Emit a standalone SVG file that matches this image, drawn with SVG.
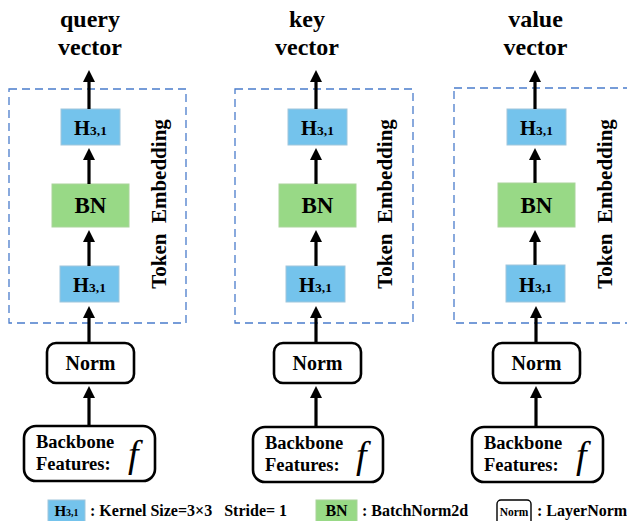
<svg xmlns="http://www.w3.org/2000/svg" width="627" height="521" viewBox="0 0 627 521">
<defs>
<style>
.t{font-family:"Liberation Serif","Times New Roman",serif;font-weight:bold;fill:#000}
.h{fill:#74C3EC;stroke:#9fc6dc;stroke-width:1}
.g{fill:#98D986;stroke:#a9d49a;stroke-width:1}
.r{fill:#fff;stroke:#000;stroke-width:2.6}
.d{fill:none;stroke:#4A7CCB;stroke-width:1.3;stroke-dasharray:8 5}
.a{stroke:#000;stroke-width:3.2;fill:none}
.f{font-family:"Liberation Serif","Times New Roman",serif;font-style:italic;fill:#000}
</style>
<marker id="ah" markerUnits="userSpaceOnUse" markerWidth="14" markerHeight="14" viewBox="0 0 14 14" refX="1" refY="7" orient="auto">
<path d="M0,1 L12,7 L0,13 z" fill="#000"/>
</marker>
</defs>

<!-- dashed token embedding containers -->
<g id="container-query"><rect class="d" x="9" y="89" width="177" height="234"/>
<text class="t" font-size="21" transform="translate(166,204) rotate(-90)" text-anchor="middle" xml:space="preserve" style="white-space:pre">Token  Embedding</text></g>
<g id="container-key"><rect class="d" x="235" y="89" width="178" height="234"/>
<text class="t" font-size="21" transform="translate(392,204) rotate(-90)" text-anchor="middle" xml:space="preserve" style="white-space:pre">Token  Embedding</text></g>
<g id="container-value"><rect class="d" x="454" y="88" width="180" height="235"/>
<text class="t" font-size="21" transform="translate(612,204) rotate(-90)" text-anchor="middle" xml:space="preserve" style="white-space:pre">Token  Embedding</text></g>

<!-- titles -->
<g id="title-query"><text class="t" font-size="24" x="90" y="27" text-anchor="middle">query</text><text class="t" font-size="24" x="90" y="55" text-anchor="middle">vector</text></g>
<g id="title-key"><text class="t" font-size="24" x="307" y="27" text-anchor="middle">key</text><text class="t" font-size="24" x="307" y="55" text-anchor="middle">vector</text></g>
<g id="title-value"><text class="t" font-size="24" x="535.5" y="27" text-anchor="middle">value</text><text class="t" font-size="24" x="535.5" y="55" text-anchor="middle">vector</text></g>

<!-- column 1 -->
<g id="q-h-top"><rect class="h" x="61" y="109" width="59" height="36"/><text class="t" font-size="20.5" x="90.5" y="135" text-anchor="middle">H<tspan font-size="13.5">3,1</tspan></text></g>
<g id="q-bn"><rect class="g" x="52" y="184" width="77" height="43"/><text class="t" font-size="23" x="90.5" y="213" text-anchor="middle">BN</text></g>
<g id="q-h-bottom"><rect class="h" x="60" y="266" width="59" height="36"/><text class="t" font-size="20.5" x="89.5" y="292" text-anchor="middle">H<tspan font-size="13.5">3,1</tspan></text></g>
<g id="q-norm"><rect class="r" x="47" y="343" width="87" height="40" rx="9"/><text class="t" font-size="20" x="90.5" y="370" text-anchor="middle">Norm</text></g>
<g id="q-backbone"><rect class="r" x="24" y="426" width="131" height="55" rx="12"/><text class="t" font-size="18.5" x="36" y="448">Backbone</text><text class="t" font-size="18.5" x="36" y="470">Features:</text><text class="f" font-size="38" x="128" y="467">f</text></g>

<!-- column 2 -->
<g id="k-h-top"><rect class="h" x="288" y="109" width="59" height="36"/><text class="t" font-size="20.5" x="317.5" y="135" text-anchor="middle">H<tspan font-size="13.5">3,1</tspan></text></g>
<g id="k-bn"><rect class="g" x="279" y="184" width="77" height="43"/><text class="t" font-size="23" x="317.5" y="213" text-anchor="middle">BN</text></g>
<g id="k-h-bottom"><rect class="h" x="286" y="266" width="59" height="36"/><text class="t" font-size="20.5" x="315.5" y="292" text-anchor="middle">H<tspan font-size="13.5">3,1</tspan></text></g>
<g id="k-norm"><rect class="r" x="274" y="343" width="87" height="40" rx="9"/><text class="t" font-size="20" x="317.5" y="370" text-anchor="middle">Norm</text></g>
<g id="k-backbone"><rect class="r" x="253" y="427" width="130" height="55" rx="12"/><text class="t" font-size="18.5" x="265" y="449">Backbone</text><text class="t" font-size="18.5" x="265" y="471">Features:</text><text class="f" font-size="38" x="356" y="468">f</text></g>

<!-- column 3 -->
<g id="v-h-top"><rect class="h" x="507" y="109" width="59" height="36"/><text class="t" font-size="20.5" x="536.5" y="135" text-anchor="middle">H<tspan font-size="13.5">3,1</tspan></text></g>
<g id="v-bn"><rect class="g" x="498" y="183" width="77" height="44"/><text class="t" font-size="23" x="536.5" y="213" text-anchor="middle">BN</text></g>
<g id="v-h-bottom"><rect class="h" x="506" y="265" width="59" height="37"/><text class="t" font-size="20.5" x="535.5" y="292" text-anchor="middle">H<tspan font-size="13.5">3,1</tspan></text></g>
<g id="v-norm"><rect class="r" x="493" y="343" width="87" height="40" rx="9"/><text class="t" font-size="20" x="536.5" y="370" text-anchor="middle">Norm</text></g>
<g id="v-backbone"><rect class="r" x="472" y="427" width="131" height="55" rx="12"/><text class="t" font-size="18.5" x="484" y="449">Backbone</text><text class="t" font-size="18.5" x="484" y="471">Features:</text><text class="f" font-size="38" x="576" y="468">f</text></g>

<!-- connectors -->
<g id="connectors">
<line class="a" x1="89" y1="109" x2="89" y2="81" marker-end="url(#ah)"/>
<line class="a" x1="89" y1="184" x2="89" y2="159" marker-end="url(#ah)"/>
<line class="a" x1="89" y1="266" x2="89" y2="241" marker-end="url(#ah)"/>
<line class="a" x1="89" y1="343" x2="89" y2="317" marker-end="url(#ah)"/>
<line class="a" x1="89" y1="426" x2="89" y2="397" marker-end="url(#ah)"/>

<line class="a" x1="316" y1="109" x2="316" y2="81" marker-end="url(#ah)"/>
<line class="a" x1="316" y1="184" x2="316" y2="159" marker-end="url(#ah)"/>
<line class="a" x1="316" y1="266" x2="316" y2="241" marker-end="url(#ah)"/>
<line class="a" x1="316" y1="343" x2="316" y2="317" marker-end="url(#ah)"/>
<line class="a" x1="316" y1="427" x2="316" y2="397" marker-end="url(#ah)"/>

<line class="a" x1="535" y1="109" x2="535" y2="81" marker-end="url(#ah)"/>
<line class="a" x1="535" y1="183" x2="535" y2="159" marker-end="url(#ah)"/>
<line class="a" x1="535" y1="265" x2="535" y2="241" marker-end="url(#ah)"/>
<line class="a" x1="536" y1="343" x2="536" y2="317" marker-end="url(#ah)"/>
<line class="a" x1="536" y1="427" x2="536" y2="397" marker-end="url(#ah)"/>
</g>

<!-- legend -->
<g id="legend-h"><rect class="h" x="48" y="500" width="37" height="24"/><text class="t" font-size="15" x="66.5" y="516" text-anchor="middle">H<tspan font-size="10">3,1</tspan></text>
<text class="t" font-size="16" x="90" y="516" xml:space="preserve" style="white-space:pre">: Kernel Size=3×3   Stride= 1</text></g>
<g id="legend-bn"><rect class="g" x="316" y="500" width="41" height="24"/><text class="t" font-size="16" x="336.5" y="516" text-anchor="middle">BN</text>
<text class="t" font-size="16" x="362" y="516">: BatchNorm2d</text></g>
<g id="legend-norm"><rect fill="#fff" stroke="#000" stroke-width="1.4" x="497" y="500" width="34" height="26" rx="4"/><text class="t" font-size="11.5" x="514" y="516" text-anchor="middle">Norm</text>
<text class="t" font-size="16" x="537" y="516">: LayerNorm</text></g>
</svg>
